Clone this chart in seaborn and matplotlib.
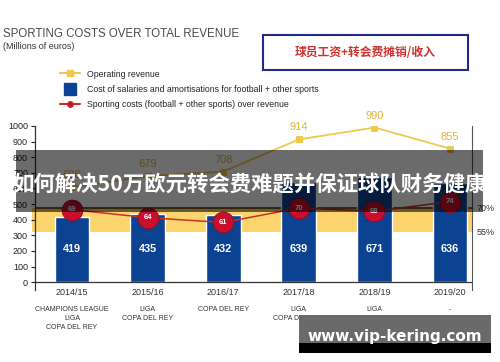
import pandas as pd
import matplotlib.pyplot as plt
import seaborn as sns
from matplotlib.patches import Rectangle
from matplotlib.lines import Line2D

# Data
seasons = ["2014/15", "2015/16", "2016/17", "2017/18", "2018/19", "2019/20"]
titles = ["CHAMPIONS LEAGUE\nLIGA\nCOPA DEL REY", "LIGA\nCOPA DEL REY", "COPA DEL REY",
          "LIGA\nCOPA DEL REY", "LIGA", "-"]
revenue = [608, 679, 708, 914, 990, 855]
salaries = [419, 435, 432, 639, 671, 636]
ratio = [69, 64, 61, 70, 68, 74]

df = pd.DataFrame({"season": seasons, "revenue": revenue, "salaries": salaries, "ratio": ratio})

sns.set_style("white")
plt.rcParams['font.family'] = ['Liberation Sans', 'DejaVu Sans']

NAVY = "#0b4392"
YELLOW = "#efc94c"
GOLD = "#e2b63a"
RED = "#c8102e"

fig = plt.figure(figsize=(5, 3.62), dpi=100)
ax = fig.add_axes([0.07, 0.199, 0.874, 0.453])

# bars
sns.barplot(data=df, x="season", y="salaries", color=NAVY, width=0.46, saturation=1, ax=ax, zorder=3)
for i, v in enumerate(salaries):
    ax.text(i, 215, str(v), color="white", fontsize=7.8, fontweight="bold", ha="center", va="center", zorder=5)

# revenue line
sns.lineplot(data=df, x="season", y="revenue", color=YELLOW, marker="s", markersize=4,
             markeredgecolor=YELLOW, linewidth=1.3, sort=False, ax=ax, zorder=4)
for i, v in enumerate(revenue):
    ax.annotate(str(v), (i, v), xytext=(0, 5), textcoords="offset points", color=GOLD,
                fontsize=8, ha="center", va="bottom")

ax.set_xlim(-0.49, 5.29)
ax.set_ylim(-50, 1000)
ax.set_yticks(range(0, 1001, 100))
ax.tick_params(axis="y", direction="out", length=3, width=0.8, labelsize=6.5, pad=2, colors="#222")
ax.tick_params(axis="x", length=0, labelbottom=False)
ax.set_xlabel("")
ax.set_ylabel("")
ax.axhline(0, color="#333", lw=0.9, zorder=4)
for s in ["top", "bottom"]:
    ax.spines[s].set_visible(False)
ax.spines["left"].set_color("#333")
ax.spines["right"].set_color("#555")
ax.spines["left"].set_linewidth(0.9)

for i, (s, t) in enumerate(zip(seasons, titles)):
    ax.text(i, -64, s, fontsize=6.5, ha="center", va="center", color="#333", clip_on=False)
    ax.text(i, -152, t, fontsize=5, ha="center", va="top", color="#333", linespacing=1.45, clip_on=False)

# sporting costs ratio on a secondary scale
ax2 = ax.twinx()
ax2.set_ylim(18.9, 121.2)
ax2.axhspan(55, 70, xmin=-0.006, color="#fbd46d", zorder=0, lw=0, clip_on=False)
ax2.axhline(70, color="#6b4a1a", lw=1.3, zorder=1)
ax2.set_zorder(ax.get_zorder() - 1)
ax.patch.set_visible(False)
ax2.set_yticks([])
for s in ax2.spines.values():
    s.set_visible(False)
ax2.text(1.01, 70, "70%", transform=ax2.get_yaxis_transform(), fontsize=6.5, va="center", color="#333")
ax2.text(1.01, 55, "55%", transform=ax2.get_yaxis_transform(), fontsize=6.5, va="center", color="#333")

# red line drawn on top of bars, same ratio scale
ax3 = ax.twinx()
ax3.set_ylim(18.9, 121.2)
ax3.set_yticks([])
for s in ax3.spines.values():
    s.set_visible(False)
sns.lineplot(x=list(range(len(seasons))), y=ratio, color="#c9302a", linewidth=1.1, ax=ax3, zorder=2)
ax3.plot(range(len(seasons)), ratio, "o", markersize=15, color=RED, markeredgecolor="#8e0b20",
         markeredgewidth=0.6, zorder=3)
for i, v in enumerate(ratio):
    ax3.text(i, v, str(v), color="white", fontsize=5.5, fontweight="bold", ha="center", va="center", zorder=4)
ax3.set_xlim(-0.49, 5.29)

# titles
fig.text(0.006, 0.905, "SPORTING COSTS OVER TOTAL REVENUE", fontsize=8.3, color="#4a4a4a", va="center")
fig.text(0.006, 0.872, "(Millions of euros)", fontsize=6.5, color="#333", va="center")

handles = [Line2D([], [], color=YELLOW, marker="s", markersize=4, lw=1.5),
           Line2D([], [], color=NAVY, marker="s", markersize=8, lw=0),
           Line2D([], [], color="#c9302a", marker="o", markersize=4, lw=1.5, markerfacecolor=RED)]
fig.legend(handles, ["Operating revenue", "Cost of salaries and amortisations for football + other sports",
                     "Sporting costs (football + other sports) over revenue"],
           loc="upper left", bbox_to_anchor=(0.112, 0.82), frameon=False, fontsize=6.3,
           handlelength=2.2, labelspacing=0.7, borderpad=0, handletextpad=0.8)

# boxed Chinese note
fig.patches.append(Rectangle((0.526, 0.807), 0.41, 0.096, transform=fig.transFigure,
                             fill=False, edgecolor="#1f2a8a", lw=1.5))
fig.text(0.731, 0.855, "球员工资+转会费摊销/收入", fontsize=8.5, fontweight="bold", color="#d0302f",
         ha="center", va="center", family=["Noto Sans CJK SC", "DejaVu Sans"])

# overlay banners
fig.patches.append(Rectangle((0.032, 1 - 212 / 362), 0.934, 62 / 362, transform=fig.transFigure,
                             facecolor="black", alpha=0.58, lw=0, zorder=10))
fig.text(0.499, 1 - 184 / 362, "如何解决50万欧元转会费难题并保证球队财务健康", fontsize=15.4,
         fontweight="bold", color="white", ha="center", va="center", zorder=11,
         family=["Noto Sans CJK SC", "DejaVu Sans"])
fig.patches.append(Rectangle((0.598, 1 - 343 / 362), 0.384, 28 / 362, transform=fig.transFigure,
                             facecolor="#6a6a6a", lw=0, zorder=10))
fig.patches.append(Rectangle((0.598, 1 - 353 / 362), 0.384, 10 / 362, transform=fig.transFigure,
                             facecolor="black", lw=0, zorder=10))
fig.text(0.79, 1 - 336 / 362, "www.vip-kering.com", fontsize=11, fontweight="bold", color="white",
         ha="center", va="center", zorder=11, family=["DejaVu Sans"])

fig.savefig("out.png", dpi=100)
